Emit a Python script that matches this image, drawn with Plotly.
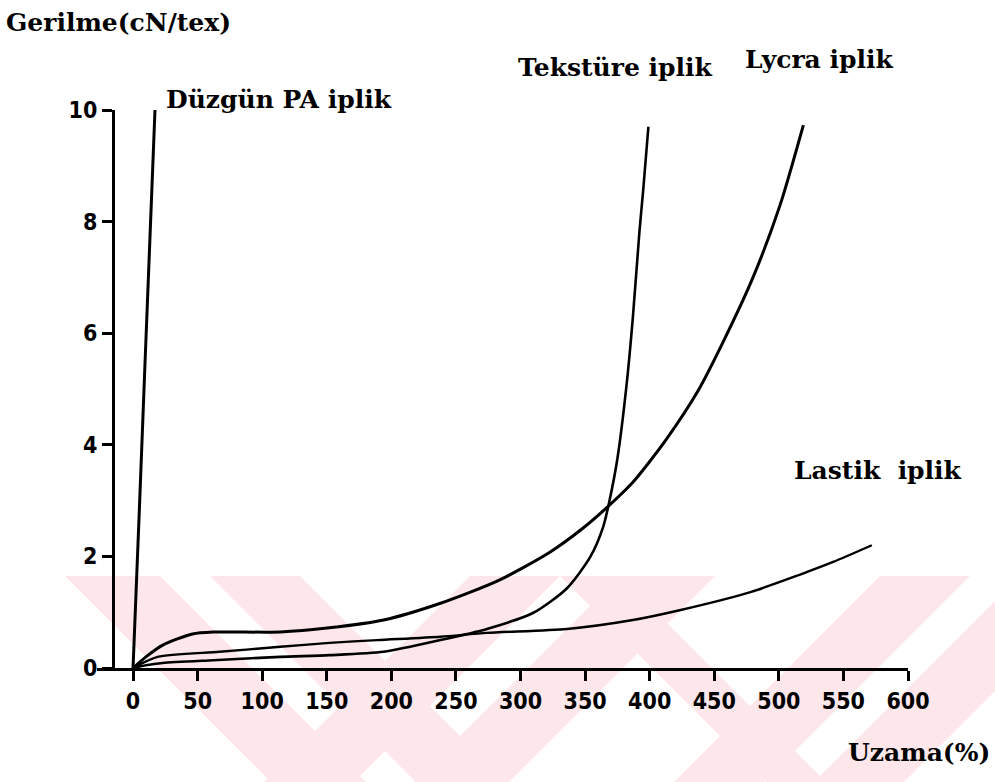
import plotly.graph_objects as go

# Stress-strain curves of different yarn types
duzgun_x = [0, 2, 5, 9, 13, 17]
duzgun_y = [0, 1.1, 2.9, 5.3, 7.7, 10.0]

tekstur_x = [0, 10, 23, 62, 114, 152, 194, 238, 274, 310, 336, 354, 364, 369, 375, 382, 387, 392, 395, 399]
tekstur_y = [0, 0.05, 0.09, 0.14, 0.20, 0.23, 0.29, 0.50, 0.70, 0.99, 1.43, 1.99, 2.53, 3.01, 3.75, 5.05, 6.29, 7.80, 8.57, 9.70]

lycra_x = [0, 10, 23, 46, 62, 114, 152, 194, 238, 284, 323, 348, 367, 387, 400, 413, 437, 457, 480, 501, 519]
lycra_y = [0, 0.2, 0.41, 0.61, 0.645, 0.645, 0.72, 0.86, 1.16, 1.58, 2.08, 2.50, 2.88, 3.33, 3.70, 4.10, 4.95, 5.85, 7.00, 8.30, 9.73]

lastik_x = [0, 19, 67, 114, 152, 189, 238, 274, 336, 387, 424, 478, 516, 542, 572]
lastik_y = [0, 0.20, 0.29, 0.38, 0.45, 0.50, 0.56, 0.63, 0.70, 0.86, 1.04, 1.36, 1.67, 1.90, 2.20]

x_ticks = [0, 50, 100, 150, 200, 250, 300, 350, 400, 450, 500, 550, 600]
y_ticks = [0, 2, 4, 6, 8, 10]

W, H = 995, 782
L, R, T, B = 97, 87, 110, 114
PW, PH = W - L - R, H - T - B


def px(x):
    return (x - L) / PW


def py(y):
    return (H - B - y) / PH


fig = go.Figure()

# pale pink diagonal watermark band along the bottom
pink = "#fde7eb"
y_top, y_bot = 576, 782
dh = y_bot - y_top
stripes = [
    ("\\", 65, 95), ("\\", 210, 90),
    ("/", 470, 90), ("/", 620, 95),
    ("\\", 560, 60),
    ("/", 880, 90), ("/", 1020, 90),
]
for kind, a, w in stripes:
    if kind == "\\":
        pts = [(a, y_top), (a + w, y_top), (a + w + dh, y_bot), (a + dh, y_bot)]
    else:
        pts = [(a, y_top), (a + w, y_top), (a + w - dh, y_bot), (a - dh, y_bot)]
    path = "M " + " L ".join(f"{px(p[0]):.4f},{py(p[1]):.4f}" for p in pts) + " Z"
    fig.add_shape(type="path", path=path, xref="paper", yref="paper",
                  fillcolor=pink, line=dict(width=0), layer="below")

smooth = dict(shape="spline", smoothing=0.7)
fig.add_trace(go.Scatter(x=duzgun_x, y=duzgun_y, mode="lines",
                         line=dict(color="black", width=3), name="Düzgün PA iplik"))
fig.add_trace(go.Scatter(x=tekstur_x, y=tekstur_y, mode="lines",
                         line=dict(color="black", width=2.6, **smooth), name="Tekstüre iplik"))
fig.add_trace(go.Scatter(x=lycra_x, y=lycra_y, mode="lines",
                         line=dict(color="black", width=3, **smooth), name="Lycra iplik"))
fig.add_trace(go.Scatter(x=lastik_x, y=lastik_y, mode="lines",
                         line=dict(color="black", width=2.4, **smooth), name="Lastik iplik"))

tick_font = dict(family="DejaVu Sans Condensed", size=23, color="black", weight="bold")
fig.update_xaxes(
    range=[-27.9, 600], tickvals=x_ticks, ticktext=[str(v) for v in x_ticks],
    showline=True, linecolor="black", linewidth=3,
    ticks="outside", ticklen=10, tickwidth=3, tickcolor="black",
    showgrid=False, zeroline=False, tickfont=tick_font,
)
fig.update_yaxes(
    range=[0, 10], tickvals=y_ticks, ticktext=[str(v) for v in y_ticks],
    anchor="free", position=px(113),
    showline=True, linecolor="black", linewidth=3,
    ticks="outside", ticklen=10, tickwidth=3, tickcolor="black",
    showgrid=False, zeroline=False, tickfont=tick_font,
)

label_font = dict(family="DejaVu Serif", size=25, color="black", weight="bold")
labels = [
    ("Gerilme(cN/tex)", 4, 22),
    ("Düzgün PA iplik", 164, 100),
    ("Tekstüre iplik", 516, 67),
    ("Lycra iplik", 743, 60),
    ("Lastik  iplik", 792, 470),
    ("Uzama(%)", 846, 752),
]
for text, x0, yc in labels:
    fig.add_annotation(text=text, x=px(x0), y=py(yc), xref="paper", yref="paper",
                       xanchor="left", yanchor="middle", showarrow=False, font=label_font)

fig.update_layout(
    width=W, height=H,
    margin=dict(l=L, r=R, t=T, b=B, pad=0),
    plot_bgcolor="white", paper_bgcolor="white",
    showlegend=False,
)

fig.write_html("out.html")
